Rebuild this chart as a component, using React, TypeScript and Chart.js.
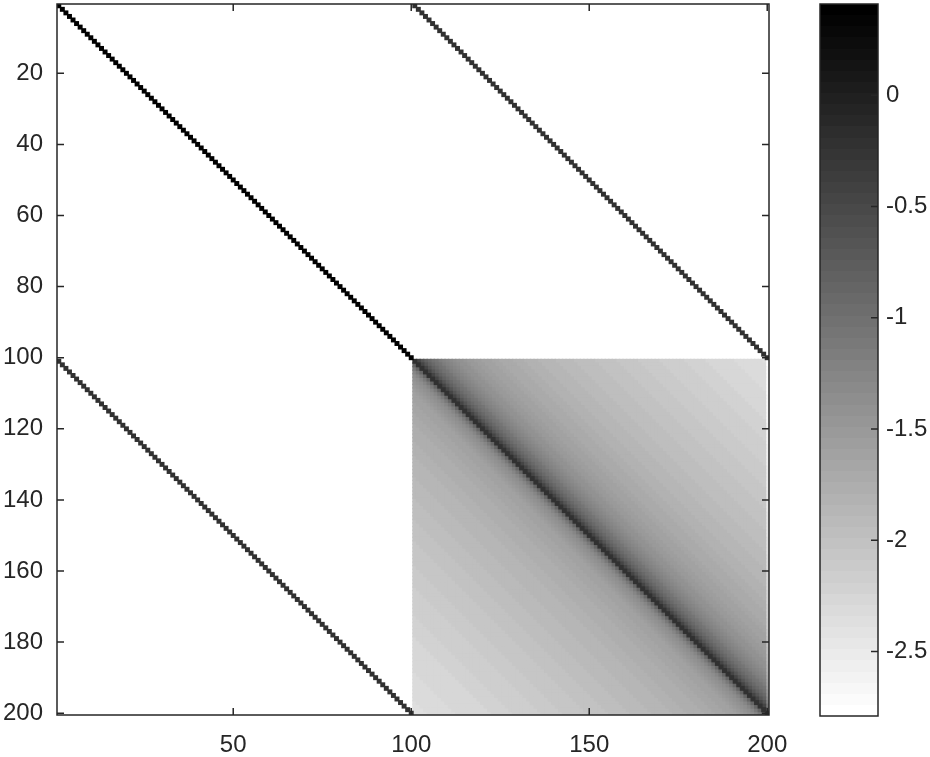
import React, { useEffect, useRef } from "react";
import { Chart, registerables } from "chart.js";

Chart.register(...registerables);

// ---- data ----
const matrixSize = 200;
const blockSize = 100;
const xTickValues = [50, 100, 150, 200];
const yTickValues = [20, 40, 60, 80, 100, 120, 140, 160, 180, 200];
const colorbarTickValues = [-2.5, -2, -1.5, -1, -0.5, 0];
const colorMin = -2.79;
const colorMax = 0.41;
const colorLevels = 64;

// diagonal values of each block
const topLeftDiagonal = 0.41;
const offBlockDiagonal = -0.2;
const lowerRightDiagonal = -0.2;

// lower-right block: value at distance d = 1..99 above the diagonal
const upperByDistance = [
  -0.47, -0.66, -0.8, -0.91, -1.0, -1.08, -1.15, -1.21, -1.27, -1.32,
  -1.36, -1.4, -1.44, -1.47, -1.5, -1.53, -1.55, -1.58, -1.6, -1.62,
  -1.64, -1.66, -1.68, -1.7, -1.71, -1.73, -1.74, -1.76, -1.77, -1.78,
  -1.8, -1.81, -1.82, -1.83, -1.84, -1.85, -1.86, -1.87, -1.88, -1.9,
  -1.91, -1.92, -1.93, -1.94, -1.95, -1.95, -1.96, -1.97, -1.98, -1.99,
  -2.0, -2.01, -2.02, -2.02, -2.03, -2.04, -2.05, -2.06, -2.06, -2.07,
  -2.08, -2.09, -2.1, -2.1, -2.11, -2.12, -2.13, -2.13, -2.14, -2.15,
  -2.16, -2.17, -2.17, -2.18, -2.19, -2.2, -2.2, -2.21, -2.22, -2.23,
  -2.23, -2.24, -2.25, -2.25, -2.26, -2.27, -2.28, -2.28, -2.29, -2.3,
  -2.3, -2.31, -2.32, -2.32, -2.33, -2.34, -2.34, -2.35, -2.36,
];
// lower-right block: value at distance d = 1..99 below the diagonal
const lowerByDistance = [
  -0.85, -1.1, -1.26, -1.36, -1.43, -1.49, -1.53, -1.57, -1.6, -1.62,
  -1.64, -1.66, -1.68, -1.69, -1.71, -1.72, -1.73, -1.75, -1.76, -1.77,
  -1.78, -1.79, -1.8, -1.81, -1.82, -1.83, -1.84, -1.85, -1.87, -1.88,
  -1.89, -1.89, -1.9, -1.91, -1.92, -1.93, -1.94, -1.94, -1.95, -1.96,
  -1.97, -1.98, -1.98, -1.99, -2.0, -2.01, -2.02, -2.02, -2.03, -2.04,
  -2.05, -2.05, -2.06, -2.07, -2.08, -2.08, -2.09, -2.1, -2.1, -2.11,
  -2.12, -2.13, -2.13, -2.14, -2.15, -2.15, -2.16, -2.17, -2.17, -2.18,
  -2.19, -2.2, -2.2, -2.21, -2.22, -2.22, -2.23, -2.24, -2.24, -2.25,
  -2.26, -2.26, -2.27, -2.28, -2.28, -2.29, -2.29, -2.3, -2.3, -2.31,
  -2.32, -2.32, -2.33, -2.33, -2.34, -2.35, -2.35, -2.36, -2.37,
];
const lastColumnDrop = 0.4;

const FONT = "'Liberation Sans', Arial, Helvetica, sans-serif";
const AXIS_COLOR = "#262626";

function cellValue(r: number, c: number) {
  const rb = r > blockSize;
  const cb = c > blockSize;
  const ri = rb ? r - blockSize : r;
  const ci = cb ? c - blockSize : c;
  if (!rb || !cb) {
    if (ri === ci) return !rb && !cb ? topLeftDiagonal : offBlockDiagonal;
    return -Infinity;
  }
  const d = ci - ri;
  if (d === 0) return lowerRightDiagonal;
  let v = d > 0 ? upperByDistance[d - 1] : lowerByDistance[-d - 1];
  if (c === matrixSize) v -= lastColumnDrop;
  return v;
}

function levelFor(v: number) {
  let idx = Math.floor(((v - colorMin) / (colorMax - colorMin)) * colorLevels);
  if (!isFinite(idx) || idx < 0) idx = 0;
  if (idx > colorLevels - 1) idx = colorLevels - 1;
  return idx;
}

function grayOfLevel(idx: number) {
  const g = Math.round(255 * (1 - idx / (colorLevels - 1)));
  return `rgb(${g},${g},${g})`;
}

const zeroPadding = (s: any) => {
  s.paddingTop = 0;
  s.paddingBottom = 0;
  s.paddingLeft = 0;
  s.paddingRight = 0;
};

const heatmapPlugin = {
  id: "heatmap",
  beforeDatasetsDraw(chart: any) {
    const { ctx, chartArea, scales } = chart;
    const xs = scales.x;
    const ys = scales.y;
    const bleed = 0.7;
    // group cells by colour level, draw lighter first so darker marks sit on top
    const buckets: number[][] = Array.from({ length: colorLevels }, () => []);
    for (let r = 1; r <= matrixSize; r++) {
      for (let c = 1; c <= matrixSize; c++) {
        buckets[levelFor(cellValue(r, c))].push(r, c);
      }
    }
    ctx.save();
    ctx.beginPath();
    ctx.rect(chartArea.left, chartArea.top, chartArea.right - chartArea.left, chartArea.bottom - chartArea.top);
    ctx.clip();
    for (let k = 0; k < colorLevels; k++) {
      const b = buckets[k];
      if (!b.length) continue;
      ctx.fillStyle = grayOfLevel(k);
      const inflate = k === 0 ? 0 : bleed;
      for (let i = 0; i < b.length; i += 2) {
        const r = b[i];
        const c = b[i + 1];
        const x0 = xs.getPixelForValue(c - 0.5);
        const x1 = xs.getPixelForValue(c + 0.5);
        const yA = ys.getPixelForValue(r - 0.5);
        const yB = ys.getPixelForValue(r + 0.5);
        const y0 = Math.min(yA, yB);
        const y1 = Math.max(yA, yB);
        ctx.fillRect(x0 - inflate, y0 - inflate, x1 - x0 + 2 * inflate, y1 - y0 + 2 * inflate);
      }
    }
    ctx.restore();
  },
};

const mainFramePlugin = {
  id: "mainFrame",
  afterDraw(chart: any) {
    const { ctx, chartArea, scales } = chart;
    const { left, right, top, bottom } = chartArea;
    const tl = 7;
    ctx.save();
    ctx.strokeStyle = AXIS_COLOR;
    ctx.lineWidth = 1.5;
    ctx.strokeRect(left, top, right - left, bottom - top);
    ctx.beginPath();
    xTickValues.forEach((v) => {
      const x = scales.x.getPixelForValue(v);
      ctx.moveTo(x, bottom);
      ctx.lineTo(x, bottom - tl);
      ctx.moveTo(x, top);
      ctx.lineTo(x, top + tl);
    });
    yTickValues.forEach((v) => {
      const y = scales.y.getPixelForValue(v);
      ctx.moveTo(left, y);
      ctx.lineTo(left + tl, y);
      ctx.moveTo(right, y);
      ctx.lineTo(right - tl, y);
    });
    ctx.stroke();
    ctx.restore();
  },
};

const colorbarPlugin = {
  id: "colorbar",
  beforeDatasetsDraw(chart: any) {
    const { ctx, chartArea, scales } = chart;
    const ys = scales.y;
    const step = (colorMax - colorMin) / colorLevels;
    ctx.save();
    for (let k = 0; k < colorLevels; k++) {
      const yA = Math.round(ys.getPixelForValue(colorMin + k * step));
      const yB = Math.round(ys.getPixelForValue(colorMin + (k + 1) * step));
      ctx.fillStyle = grayOfLevel(k);
      ctx.fillRect(chartArea.left, Math.min(yA, yB), chartArea.right - chartArea.left, Math.abs(yA - yB));
    }
    ctx.restore();
  },
  afterDraw(chart: any) {
    const { ctx, chartArea, scales } = chart;
    const { left, right, top, bottom } = chartArea;
    ctx.save();
    ctx.strokeStyle = AXIS_COLOR;
    ctx.lineWidth = 1.5;
    ctx.strokeRect(left, top, right - left, bottom - top);
    ctx.beginPath();
    colorbarTickValues.forEach((v) => {
      const y = scales.y.getPixelForValue(v);
      ctx.moveTo(right, y);
      ctx.lineTo(right - 7, y);
    });
    ctx.stroke();
    ctx.restore();
  },
};

export default function App() {
  const mainRef = useRef<HTMLCanvasElement | null>(null);
  const barRef = useRef<HTMLCanvasElement | null>(null);

  useEffect(() => {
    document.body.style.margin = "0";
    const tickFont = { family: FONT, size: 24 };
    const main = new Chart(mainRef.current as HTMLCanvasElement, {
      type: "scatter",
      data: { datasets: [{ data: [] }] },
      plugins: [heatmapPlugin, mainFramePlugin],
      options: {
        animation: false,
        responsive: false,
        maintainAspectRatio: false,
        layout: { padding: { left: 0, top: 4, right: 161, bottom: 0 } },
        plugins: { legend: { display: false }, tooltip: { enabled: false } },
        scales: {
          x: {
            type: "linear",
            min: 0.5,
            max: matrixSize + 0.5,
            grid: { display: false, drawTicks: false },
            border: { display: false },
            afterBuildTicks: (s: any) => {
              s.ticks = xTickValues.map((v) => ({ value: v }));
            },
            afterFit: (s: any) => {
              s.height = 42;
              zeroPadding(s);
            },
            ticks: {
              font: tickFont,
              color: AXIS_COLOR,
              padding: 16,
              maxRotation: 0,
              autoSkip: false,
              callback: (v: any) => String(v),
            },
          },
          y: {
            type: "linear",
            reverse: true,
            min: 0.5,
            max: matrixSize + 0.5,
            grid: { display: false, drawTicks: false },
            border: { display: false },
            afterBuildTicks: (s: any) => {
              s.ticks = yTickValues.map((v) => ({ value: v }));
            },
            afterFit: (s: any) => {
              s.width = 57;
              zeroPadding(s);
            },
            ticks: {
              font: tickFont,
              color: AXIS_COLOR,
              padding: 14,
              autoSkip: false,
              callback: (v: any) => String(v),
            },
          },
        },
      } as any,
    });

    const bar = new Chart(barRef.current as HTMLCanvasElement, {
      type: "scatter",
      data: { datasets: [{ data: [] }] },
      plugins: [colorbarPlugin],
      options: {
        animation: false,
        responsive: false,
        maintainAspectRatio: false,
        layout: { padding: { left: 820, top: 4, right: 0, bottom: 41 } },
        plugins: { legend: { display: false }, tooltip: { enabled: false } },
        scales: {
          x: { type: "linear", display: false, min: 0, max: 1 },
          y: {
            type: "linear",
            position: "right",
            min: colorMin,
            max: colorMax,
            grid: { display: false, drawTicks: false },
            border: { display: false },
            afterBuildTicks: (s: any) => {
              s.ticks = colorbarTickValues.map((v) => ({ value: v }));
            },
            afterFit: (s: any) => {
              s.width = 52;
              zeroPadding(s);
            },
            ticks: {
              font: tickFont,
              color: AXIS_COLOR,
              padding: 8,
              autoSkip: false,
              callback: (v: any) => String(v),
            },
          },
        },
      } as any,
    });

    return () => {
      main.destroy();
      bar.destroy();
    };
  }, []);

  return (
    <div style={{ position: "relative", width: 930, height: 757, background: "#fff" }}>
      <canvas ref={mainRef} width={930} height={757} style={{ position: "absolute", left: 0, top: 0 }} />
      <canvas ref={barRef} width={930} height={757} style={{ position: "absolute", left: 0, top: 0 }} />
    </div>
  );
}
